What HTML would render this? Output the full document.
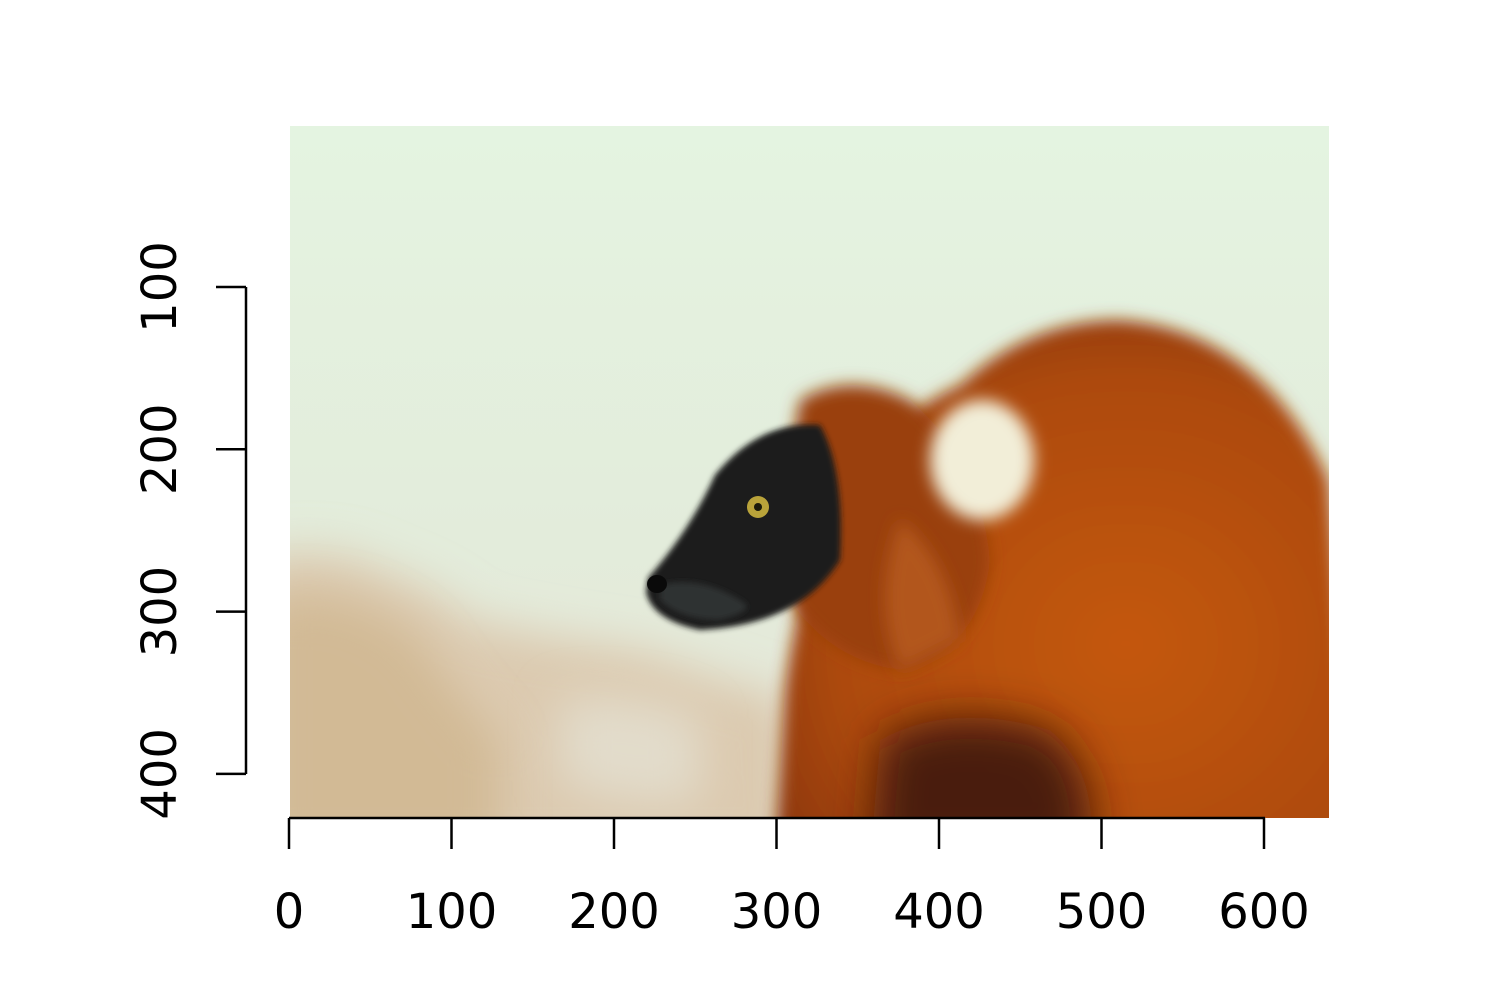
<!DOCTYPE html>
<html><head><meta charset="utf-8"><style>
html,body{margin:0;padding:0;background:#fff;}
svg{display:block;font-family:"DejaVu Sans","Liberation Sans",sans-serif;}
</style></head><body>
<svg width="1500" height="1005" viewBox="0 0 1500 1005">
<defs>
<filter id="b8" filterUnits="userSpaceOnUse" x="0" y="0" width="1500" height="1005"><feGaussianBlur stdDeviation="8"/></filter>
<filter id="b20" filterUnits="userSpaceOnUse" x="0" y="0" width="1500" height="1005"><feGaussianBlur stdDeviation="22"/></filter>
<filter id="b3" filterUnits="userSpaceOnUse" x="0" y="0" width="1500" height="1005"><feGaussianBlur stdDeviation="3"/></filter>
<clipPath id="clip"><rect x="290" y="126" width="1039" height="692"/></clipPath>
<linearGradient id="bg" x1="0" y1="0" x2="0" y2="1">
<stop offset="0" stop-color="#e4f4e1"/><stop offset="0.6" stop-color="#e3ecdb"/><stop offset="1" stop-color="#e6e6d8"/>
</linearGradient>
<radialGradient id="fur" cx="0.6" cy="0.6" r="0.7">
<stop offset="0" stop-color="#c4580f"/><stop offset="0.7" stop-color="#ad4a0e"/><stop offset="1" stop-color="#8a350b"/>
</radialGradient>
</defs>
<g clip-path="url(#clip)">
<rect x="290" y="126" width="1039" height="692" fill="url(#bg)"/>
<path d="M250 560 Q330 540 380 570 Q440 590 470 620 Q560 640 640 650 Q720 680 790 700 L800 860 L250 860 Z" fill="#dccab0" filter="url(#b20)"/>
<path d="M260 600 Q350 580 420 640 Q460 700 500 740 L500 860 L260 860Z" fill="#d2ba95" filter="url(#b20)"/>
<path d="M560 700 Q640 690 700 720 L700 800 Q620 810 560 780Z" fill="#e2dccb" filter="url(#b20)"/>
<path d="M775 860 L785 690 Q795 600 830 520 Q880 420 960 385 Q1030 320 1120 320 Q1260 330 1329 480 L1360 860 Z" fill="url(#fur)" filter="url(#b8)"/>
<path d="M880 740 Q950 700 1050 730 Q1100 770 1090 860 L870 860 Z" fill="#4a1a07" filter="url(#b20)"/>
<path d="M800 400 Q850 370 910 400 Q980 460 990 560 Q980 650 900 670 Q830 660 790 600 Q780 500 800 400Z" fill="#9a3f0e" filter="url(#b8)"/>
<path d="M900 520 Q950 560 960 640 L900 670 Q870 600 900 520Z" fill="#b2561c" filter="url(#b8)"/>
<ellipse cx="982" cy="460" rx="52" ry="60" fill="#f2eed8" filter="url(#b8)"/>
<path d="M648 578 Q690 530 715 475 Q760 420 820 425 Q845 470 840 560 Q800 625 700 630 Q652 620 646 592 Z" fill="#1d1f1e" filter="url(#b3)"/>
<path d="M660 585 Q700 575 740 600 Q760 610 720 620 Q680 620 660 600Z" fill="#2e3131" filter="url(#b3)"/>
<ellipse cx="657" cy="584" rx="10" ry="9" fill="#0a0a0a"/>
<circle cx="758" cy="507" r="11" fill="#b9a33a"/>
<circle cx="758" cy="507" r="4" fill="#1a1a0a"/>
</g>
<g stroke="#000" stroke-width="2.5" fill="none">
<line x1="289" y1="818" x2="1265" y2="818"/>
</g>
<g stroke="#000" stroke-width="2.5" fill="none">
<line x1="246" y1="287" x2="246" y2="774"/>
</g>
<g id="xt"></g>
<g id="yt"></g>
</svg>
<script>
const xTicks=[0,100,200,300,400,500,600];
const yTicks=[100,200,300,400];
const ns="http://www.w3.org/2000/svg";
const xs=v=>289+v*1.625, ys=v=>124.7+v*1.623;
const xt=document.getElementById('xt'), yt=document.getElementById('yt');
xTicks.forEach(v=>{
 const l=document.createElementNS(ns,'line');
 l.setAttribute('x1',xs(v));l.setAttribute('x2',xs(v));l.setAttribute('y1',818);l.setAttribute('y2',849);
 l.setAttribute('stroke','#000');l.setAttribute('stroke-width','2.5');
 
 
 xt.appendChild(l);
 const t=document.createElementNS(ns,'text');
 t.setAttribute('x',xs(v));t.setAttribute('y',928);t.setAttribute('text-anchor','middle');t.setAttribute('font-size','48');
 t.textContent=v;
 
 
 xt.appendChild(t);
});
yTicks.forEach(v=>{
 const l=document.createElementNS(ns,'line');
 l.setAttribute('x1',216);l.setAttribute('x2',246);l.setAttribute('y1',ys(v));l.setAttribute('y2',ys(v));
 l.setAttribute('stroke','#000');l.setAttribute('stroke-width','2.5');
 
 
 yt.appendChild(l);
 const t=document.createElementNS(ns,'text');
 t.setAttribute('x',0);t.setAttribute('y',0);t.setAttribute('text-anchor','middle');t.setAttribute('font-size','48');
 t.setAttribute('transform','translate(176,'+ys(v)+') rotate(-90)');
 t.textContent=v;
 
 
 yt.appendChild(t);
});
</script>
</body></html>
